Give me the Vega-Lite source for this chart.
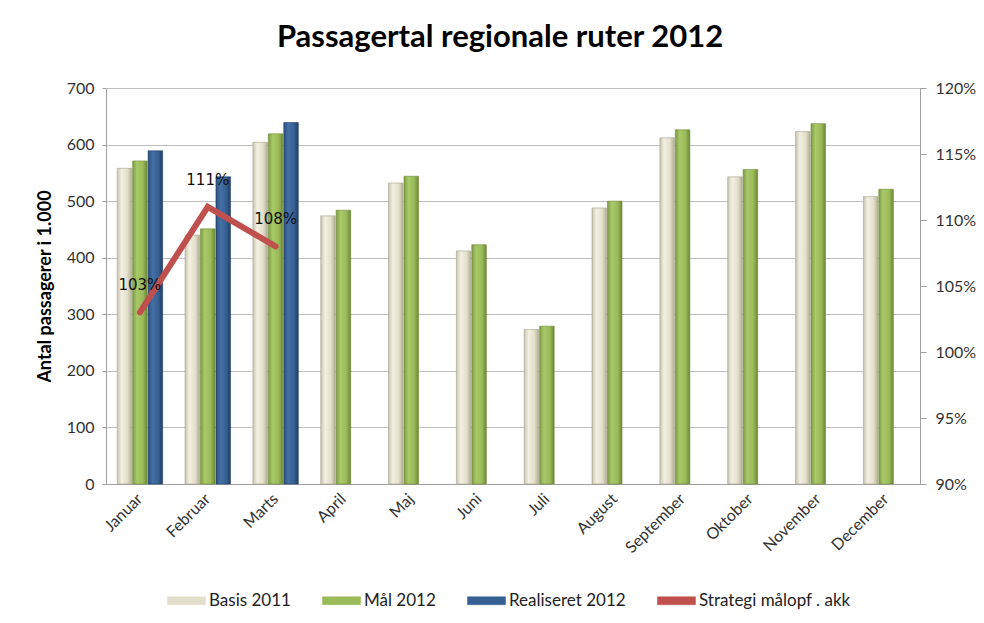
{
  "$schema": "https://vega.github.io/schema/vega-lite/v6.json",
  "autosize": "none",
  "width": 814,
  "height": 396,
  "padding": {"left": 106, "top": 88, "right": 64, "bottom": 139},
  "background": "white",
  "title": {
    "text": "Passagertal regionale ruter 2012",
    "font": "Lato",
    "fontSize": 31,
    "fontWeight": "bold",
    "color": "#000000",
    "offset": 26,
    "dx": -13
  },
  "config": {
    "view": {"stroke": null},
    "axis": {
      "labelFont": "Lato",
      "labelFontSize": 16,
      "labelColor": "#333333",
      "titleFont": "Lato",
      "gridColor": "#BFBFBF",
      "domainColor": "#A0A0A0",
      "tickColor": "#A0A0A0"
    },
    "legend": {"labelFont": "Lato", "labelFontSize": 17, "labelColor": "#222222"}
  },
  "datasets": {
    "bars": [
      {"Måned": "Januar", "Serie": "Basis 2011", "Antal": 558},
      {"Måned": "Januar", "Serie": "Mål 2012", "Antal": 571},
      {"Måned": "Januar", "Serie": "Realiseret 2012", "Antal": 589},
      {"Måned": "Februar", "Serie": "Basis 2011", "Antal": 440},
      {"Måned": "Februar", "Serie": "Mål 2012", "Antal": 451},
      {"Måned": "Februar", "Serie": "Realiseret 2012", "Antal": 543},
      {"Måned": "Marts", "Serie": "Basis 2011", "Antal": 604},
      {"Måned": "Marts", "Serie": "Mål 2012", "Antal": 619},
      {"Måned": "Marts", "Serie": "Realiseret 2012", "Antal": 639},
      {"Måned": "April", "Serie": "Basis 2011", "Antal": 474},
      {"Måned": "April", "Serie": "Mål 2012", "Antal": 484},
      {"Måned": "Maj", "Serie": "Basis 2011", "Antal": 532},
      {"Måned": "Maj", "Serie": "Mål 2012", "Antal": 544},
      {"Måned": "Juni", "Serie": "Basis 2011", "Antal": 412},
      {"Måned": "Juni", "Serie": "Mål 2012", "Antal": 423},
      {"Måned": "Juli", "Serie": "Basis 2011", "Antal": 273},
      {"Måned": "Juli", "Serie": "Mål 2012", "Antal": 279},
      {"Måned": "August", "Serie": "Basis 2011", "Antal": 488},
      {"Måned": "August", "Serie": "Mål 2012", "Antal": 500},
      {"Måned": "September", "Serie": "Basis 2011", "Antal": 612},
      {"Måned": "September", "Serie": "Mål 2012", "Antal": 626},
      {"Måned": "Oktober", "Serie": "Basis 2011", "Antal": 543},
      {"Måned": "Oktober", "Serie": "Mål 2012", "Antal": 556},
      {"Måned": "November", "Serie": "Basis 2011", "Antal": 623},
      {"Måned": "November", "Serie": "Mål 2012", "Antal": 637},
      {"Måned": "December", "Serie": "Basis 2011", "Antal": 508},
      {"Måned": "December", "Serie": "Mål 2012", "Antal": 521}
    ],
    "pct": [
      {"Måned": "Januar", "Serie": "Strategi målopf . akk", "Pct": 1.03},
      {"Måned": "Februar", "Serie": "Strategi målopf . akk", "Pct": 1.11},
      {"Måned": "Marts", "Serie": "Strategi målopf . akk", "Pct": 1.08}
    ]
  },
  "layer": [
    {
      "data": {"name": "bars"},
      "mark": {"type": "bar", "strokeWidth": 1, "strokeOpacity": 0.6},
      "encoding": {
        "x": {
          "field": "Måned",
          "type": "nominal",
          "sort": ["Januar", "Februar", "Marts", "April", "Maj", "Juni", "Juli", "August", "September", "Oktober", "November", "December"],
          "scale": {"paddingInner": 0.33, "paddingOuter": 0.165},
          "axis": {
            "title": null,
            "labelAngle": -45,
            "labelAlign": "right",
            "labelBaseline": "middle",
            "ticks": false,
            "labelPadding": 12,
            "grid": false
          }
        },
        "xOffset": {
          "field": "Serie",
          "type": "nominal",
          "sort": ["Basis 2011", "Mål 2012", "Realiseret 2012"],
          "scale": {"domain": ["Basis 2011", "Mål 2012", "Realiseret 2012"], "paddingInner": 0.06}
        },
        "y": {
          "field": "Antal",
          "type": "quantitative",
          "scale": {"domain": [0, 700]},
          "axis": {
            "title": "Antal passagerer i 1.000",
            "titleFontSize": 18,
            "titleFontWeight": "bold",
            "titleColor": "#000000",
            "titlePadding": 12,
            "values": [0, 100, 200, 300, 400, 500, 600, 700],
            "tickSize": 4,
            "labelPadding": 8,
            "grid": true
          }
        },
        "fill": {
          "condition": [
            {"test": "datum['Serie'] === 'Basis 2011'", "value": {"gradient": "linear", "x1": 0, "y1": 0, "x2": 1, "y2": 0, "stops": [{"offset": 0, "color": "#C9C4AC"}, {"offset": 0.3, "color": "#F3F0E4"}, {"offset": 0.7, "color": "#E4DFCA"}, {"offset": 1, "color": "#B3AE98"}]}},
            {"test": "datum['Serie'] === 'Mål 2012'", "value": {"gradient": "linear", "x1": 0, "y1": 0, "x2": 1, "y2": 0, "stops": [{"offset": 0, "color": "#7E9C43"}, {"offset": 0.3, "color": "#A9C96A"}, {"offset": 0.7, "color": "#9BBB59"}, {"offset": 1, "color": "#6C8735"}]}}
          ],
          "value": {"gradient": "linear", "x1": 0, "y1": 0, "x2": 1, "y2": 0, "stops": [{"offset": 0, "color": "#2B4E7C"}, {"offset": 0.3, "color": "#4470A6"}, {"offset": 0.7, "color": "#376092"}, {"offset": 1, "color": "#223F64"}]}
        },
        "stroke": {
          "field": "Serie",
          "type": "nominal",
          "scale": {
            "domain": ["Basis 2011", "Mål 2012", "Realiseret 2012"],
            "range": ["#A8A48F", "#6E8B35", "#22406A"]
          },
          "legend": null
        }
      }
    },
    {
      "data": {"name": "pct"},
      "layer": [
        {
          "mark": {"type": "line", "strokeWidth": 6, "strokeCap": "round", "strokeJoin": "miter"},
          "encoding": {
            "x": {"field": "Måned", "type": "nominal", "sort": ["Januar", "Februar", "Marts", "April", "Maj", "Juni", "Juli", "August", "September", "Oktober", "November", "December"]},
            "y": {
              "field": "Pct",
              "type": "quantitative",
              "scale": {"domain": [0.9, 1.2]},
              "axis": {
                "orient": "right",
                "title": null,
                "format": ".0%",
                "values": [0.9, 0.95, 1.0, 1.05, 1.1, 1.15, 1.2],
                "grid": false,
                "tickSize": 6,
                "labelPadding": 9
              }
            },
            "color": {
              "field": "Serie",
              "type": "nominal",
              "scale": {
                "domain": ["Basis 2011", "Mål 2012", "Realiseret 2012", "Strategi målopf . akk"],
                "range": ["#E3DECA", "#9BBB59", "#376092", "#C0504D"]
              },
              "legend": {
                "title": null,
                "orient": "none",
                "legendX": 61,
                "legendY": 493,
                "direction": "horizontal",
                "symbolType": "M-1,-0.21H1V0.21H-1Z",
                "symbolSize": 1444,
                "labelOffset": 3,
                "columnPadding": 30,
                "encode": {
                  "symbols": {
                    "update": {
                      "fill": {"scale": "color", "field": "value"},
                      "stroke": {"value": "#999999"},
                      "strokeWidth": {"value": 0.5},
                      "opacity": {"value": 1}
                    }
                  }
                }
              }
            }
          }
        },
        {
          "mark": {"type": "text", "dy": -27, "font": "DejaVu Sans", "fontSize": 15, "color": "#111111"},
          "encoding": {
            "x": {"field": "Måned", "type": "nominal", "sort": ["Januar", "Februar", "Marts", "April", "Maj", "Juni", "Juli", "August", "September", "Oktober", "November", "December"]},
            "y": {"field": "Pct", "type": "quantitative"},
            "text": {"field": "Pct", "type": "quantitative", "format": ".0%"}
          }
        }
      ]
    }
  ],
  "resolve": {"scale": {"y": "independent"}}
}
